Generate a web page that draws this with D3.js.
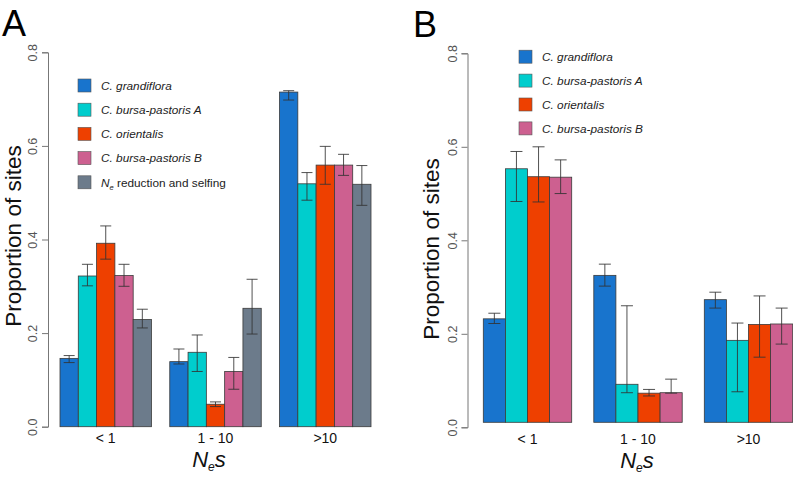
<!DOCTYPE html>
<html><head><meta charset="utf-8">
<script src="https://cdn.jsdelivr.net/npm/d3@7"></script>
<style>body{margin:0;background:#fff}svg{display:block}text{font-family:"Liberation Sans",Arial,sans-serif}</style>
</head><body>
<svg id="c" width="793" height="484"></svg>
<script>
// ---- data ----
const categories = ["< 1", "1 - 10", ">10"];
const yTicks = [0.0, 0.2, 0.4, 0.6, 0.8];

const seriesA = ["C. grandiflora", "C. bursa-pastoris A", "C. orientalis", "C. bursa-pastoris B", "Ne reduction and selfing"];
const colorsA = ["#1874CD", "#00CDCD", "#EE4000", "#CD6090", "#6C7B8B"];
// values[series][category]
const valuesA = [
  [0.146, 0.139, 0.715],
  [0.322, 0.159, 0.519],
  [0.392, 0.048, 0.559],
  [0.323, 0.118, 0.559],
  [0.229, 0.253, 0.518]
];
const lowA = [
  [0.137, 0.134, 0.698],
  [0.301, 0.118, 0.484],
  [0.358, 0.043, 0.518],
  [0.300, 0.080, 0.537],
  [0.211, 0.198, 0.473]
];
const highA = [
  [0.152, 0.166, 0.718],
  [0.347, 0.196, 0.543],
  [0.429, 0.053, 0.599],
  [0.347, 0.148, 0.582],
  [0.251, 0.315, 0.558]
];

const seriesB = ["C. grandiflora", "C. bursa-pastoris A", "C. orientalis", "C. bursa-pastoris B"];
const colorsB = ["#1874CD", "#00CDCD", "#EE4000", "#CD6090"];
const valuesB = [
  [0.232, 0.325, 0.273],
  [0.553, 0.092, 0.186],
  [0.536, 0.073, 0.220],
  [0.535, 0.074, 0.221]
];
const lowB = [
  [0.222, 0.302, 0.255],
  [0.483, 0.074, 0.076],
  [0.482, 0.067, 0.150],
  [0.500, 0.073, 0.178]
];
const highB = [
  [0.244, 0.349, 0.289],
  [0.590, 0.260, 0.223],
  [0.600, 0.081, 0.281],
  [0.572, 0.103, 0.255]
];

const svg = d3.select("#c");

function panel(cfg) {
  const g = svg.append("g");
  const y = d3.scaleLinear().domain([0, 0.8]).range(cfg.yRange);
  const x0 = d3.scaleBand().domain(categories).range(cfg.xRange).paddingInner(cfg.padInner).paddingOuter(0);
  const x1 = d3.scaleBand().domain(cfg.series.map((d, i) => i)).range([0, x0.bandwidth()]);
  const base = y(0) - cfg.baseOff;

  // bars
  cfg.series.forEach((s, i) => {
    categories.forEach((c, j) => {
      const v = cfg.values[i][j];
      g.append("rect")
        .attr("x", x0(c) + x1(i)).attr("width", x1.bandwidth())
        .attr("y", y(v)).attr("height", base - y(v))
        .attr("fill", cfg.colors[i]).attr("stroke", "#3a3a3a").attr("stroke-width", 0.8);
    });
  });
  // error bars
  cfg.series.forEach((s, i) => {
    categories.forEach((c, j) => {
      const cx = x0(c) + x1(i) + x1.bandwidth() / 2;
      const lo = y(cfg.low[i][j]), hi = y(cfg.high[i][j]);
      const eg = g.append("g").attr("stroke", "#333").attr("stroke-width", 1).attr("stroke-opacity", 0.85);
      eg.append("line").attr("x1", cx).attr("x2", cx).attr("y1", lo).attr("y2", hi);
      eg.append("line").attr("x1", cx - cfg.cap / 2).attr("x2", cx + cfg.cap / 2).attr("y1", lo).attr("y2", lo);
      eg.append("line").attr("x1", cx - cfg.cap / 2).attr("x2", cx + cfg.cap / 2).attr("y1", hi).attr("y2", hi);
    });
  });

  // y axis
  const ax = g.append("g").attr("transform", `translate(${cfg.axisX},0)`)
    .call(d3.axisLeft(y).tickValues(yTicks).tickFormat(d3.format(".1f")).tickSizeOuter(0).tickSize(6));
  ax.select(".domain").attr("stroke", "#777");
  ax.selectAll(".tick line").attr("stroke", "#777");
  ax.selectAll(".tick text").attr("fill", "#555").attr("font-size", 12.5)
    .attr("font-family", "Liberation Sans, Arial, sans-serif")
    .attr("text-anchor", "middle")
    .attr("transform", "rotate(-90)").attr("x", 0).attr("y", -11).attr("dy", "0");

  // category labels
  categories.forEach(c => {
    g.append("text").attr("x", x0(c) + x0.bandwidth() / 2).attr("y", cfg.catY)
      .attr("text-anchor", "middle").attr("font-size", 14).attr("fill", "#111").text(c);
  });
  // x title Ne s
  const xt = g.append("text").attr("x", cfg.xTitleX).attr("y", cfg.xTitleY).attr("text-anchor", "middle")
    .attr("font-style", "italic").attr("fill", "#111");
  xt.append("tspan").attr("font-size", 22).text("N");
  xt.append("tspan").attr("font-size", 12).attr("dy", 4).text("e");
  xt.append("tspan").attr("font-size", 22).attr("dy", -4).text("s");

  // y title
  g.append("text").attr("transform", `translate(${cfg.yTitleX},${cfg.yTitleY}) rotate(-90)`)
    .attr("text-anchor", "middle").attr("font-size", 22.5).attr("fill", "#111").text("Proportion of sites");

  // panel letter
  g.append("text").attr("x", cfg.letterX).attr("y", cfg.letterY).attr("font-size", 36).attr("fill", "#000").text(cfg.letter);

  // legend
  cfg.series.forEach((s, i) => {
    const ly = cfg.legY + i * cfg.legStep;
    g.append("rect").attr("x", cfg.legX).attr("y", ly - 6.5).attr("width", 13).attr("height", 13)
      .attr("fill", cfg.colors[i]).attr("stroke", "#555").attr("stroke-width", 0.6);
    const t = g.append("text").attr("x", cfg.legX + 23).attr("y", ly + 4.2).attr("font-size", 11.8).attr("fill", "#222");
    if (s.startsWith("Ne ")) {
      t.append("tspan").attr("font-style", "italic").text("N");
      t.append("tspan").attr("font-style", "italic").attr("font-size", 7.5).attr("dy", 3).text("e");
      t.append("tspan").attr("dy", -3).text(" " + s.slice(3));
    } else {
      t.attr("font-style", "italic").text(s);
    }
  });
}

panel({
  series: seriesA, colors: colorsA, values: valuesA, low: lowA, high: highA,
  yRange: [426.7, 52.3], xRange: [60, 371], padInner: 1 / 6, baseOff: 0, cap: 11,
  axisX: 48, catY: 443, xTitleX: 209, xTitleY: 467, yTitleX: 20.5, yTitleY: 236,
  letter: "A", letterX: 2, letterY: 36, legX: 78, legY: 85.5, legStep: 24.2
});
panel({
  series: seriesB, colors: colorsB, values: valuesB, low: lowB, high: highB,
  yRange: [427.3, 53.3], xRange: [483.3, 792.7], padInner: 1 / 5, baseOff: 5, cap: 12,
  axisX: 467.5, catY: 444, xTitleX: 637, xTitleY: 468, yTitleX: 439, yTitleY: 249,
  letter: "B", letterX: 413, letterY: 37, legX: 519, legY: 56.7, legStep: 23.9
});
</script>
</body></html>
